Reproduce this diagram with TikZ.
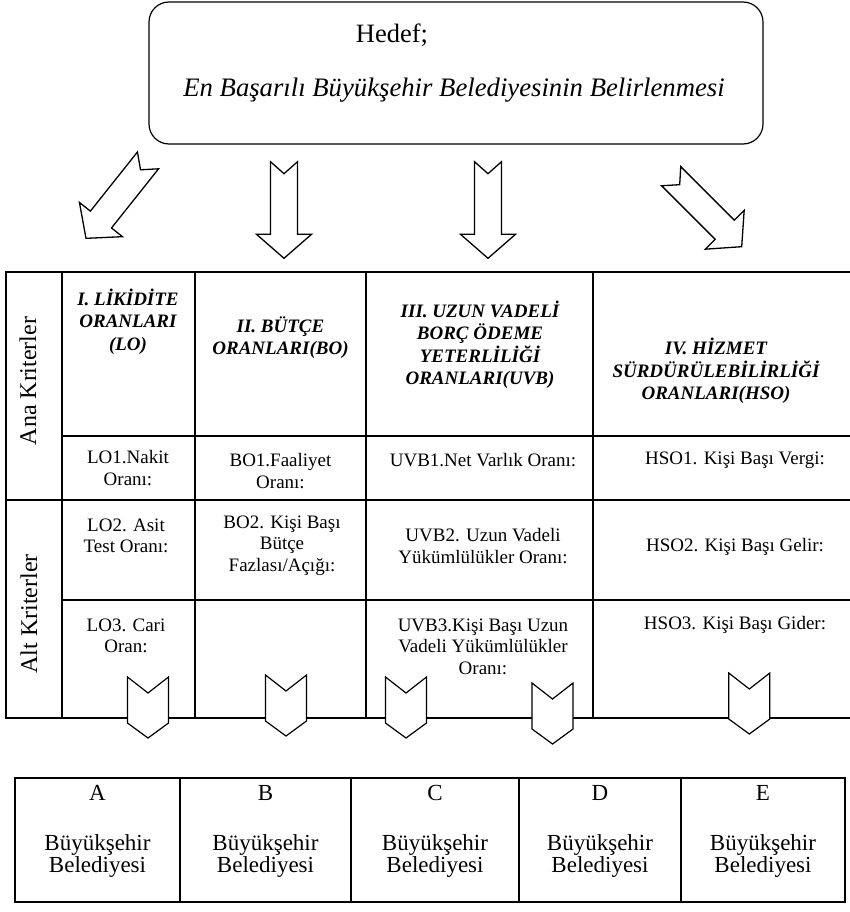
\documentclass[tikz,border=0pt]{standalone}
\usepackage{fontspec}
\setmainfont{Liberation Serif}

\tikzset{
  tablo/.style={line width=2pt},
  baslik/.style={font=\fontsize{19}{22.5}\selectfont\bfseries\itshape, align=center},
  oran/.style={font=\fontsize{19}{21.5}\selectfont, align=center},
  kriter/.style={font=\fontsize{24}{26}\selectfont, rotate=90},
  belediye/.style={font=\fontsize{23}{21.7}\selectfont, align=center},
  okblok/.style={draw, line width=1.3pt, fill=white},
  cevron/.style={draw, line width=1.2pt, fill=white},
}

\begin{document}
\begin{tikzpicture}[x=1pt, y=-1pt]
    \useasboundingbox (0,0) rectangle (850,912);

    % hedef
    \node[draw, line width=1.2pt, rounded corners=20pt, minimum width=614pt, minimum height=142pt] (hedef) at (456,73) {};
    \node[font=\fontsize{26.5}{30}\selectfont] (hedefbaslik) at (392,35) {Hedef;};
    \node[font=\fontsize{26.7}{30}\selectfont\itshape] (hedefmetin) at (454,90) {En Başarılı Büyükşehir Belediyesinin Belirlenmesi};

    % oklar
    \foreach \ax/\ay/\ang/\al in {148/160.4/-38.5/99.6, 284/161.7/0/96.6, 488/161.7/0/96.6, 671.2/176.2/45/99.7}{
        \begin{scope}[shift={(\ax,\ay)}, rotate=\ang]
            \draw[okblok] (-13.5,0) -- (0,12) -- (13.5,0) -- (13.5,\al-24) -- (27.5,\al-24) -- (0,\al) -- (-27.5,\al-24) -- (-13.5,\al-24) -- cycle;
        \end{scope}
    }

    % kriter tablosu
    \draw[tablo] (852,272) -- (6,272) -- (6,717.7) -- (852,717.7);
    \foreach \cx in {61.5,195,365.5,592.5} \draw[tablo] (\cx,272) -- (\cx,717.7);
    \draw[tablo] (61.5,435.5) -- (852,435.5);
    \draw[tablo] (6,500) -- (852,500);
    \draw[tablo] (61.5,600) -- (852,600);

    \node[kriter] (ana) at (28,381) {Ana Kriterler};
    \node[kriter] (alt) at (29,614) {Alt Kriterler};

    \node[baslik] (lo) at (128,321.5) {I. LİKİDİTE\\ORANLARI\\(LO)};
    \node[baslik] (bo) at (280.5,337.5) {II. BÜTÇE\\ORANLARI(BO)};
    \node[baslik] (uvb) at (480,345) {III. UZUN VADELİ\\BORÇ ÖDEME\\YETERLİLİĞİ\\ORANLARI(UVB)};
    \node[baslik] (hso) at (716,371) {IV. HİZMET\\SÜRDÜRÜLEBİLİRLİĞİ\\ORANLARI(HSO)};

    \node[oran] (lo1) at (128,468) {LO1.Nakit\\Oranı:};
    \node[oran] (bo1) at (280.5,471) {BO1.Faaliyet\\Oranı:};
    \node[oran] (uvb1) at (483,460) {UVB1.Net Varlık Oranı:};
    \node[oran] (hso1) at (735,460) {HSO1. Kişi Başı Vergi:};

    \node[oran] (lo2) at (126,536) {LO2. Asit\\Test Oranı:};
    \node[oran] (bo2) at (282,545.5) {BO2. Kişi Başı\\Bütçe\\Fazlası/Açığı:};
    \node[oran] (uvb2) at (483,546) {UVB2. Uzun Vadeli\\Yükümlülükler Oranı:};
    \node[oran] (hso2) at (735,546.7) {HSO2. Kişi Başı Gelir:};

    \node[oran] (lo3) at (126,636) {LO3. Cari\\Oran:};
    \node[oran] (uvb3) at (483,646.7) {UVB3.Kişi Başı Uzun\\Vadeli Yükümlülükler\\Oranı:};
    \node[oran] (hso3) at (735,625) {HSO3. Kişi Başı Gider:};

    % cevronlar
    \foreach \cx/\cy in {148/677, 286/675, 406/677, 552.5/683, 749.3/673}
        \draw[cevron] (\cx-20.5,\cy) -- (\cx,\cy+16) -- (\cx+20.5,\cy) -- (\cx+20.5,\cy+46) -- (\cx,\cy+61) -- (\cx-20.5,\cy+46) -- cycle;

    % belediyeler
    \draw[tablo] (15,777.5) rectangle (845,902);
    \foreach \cx in {180,351,519,681} \draw[tablo] (\cx,777.5) -- (\cx,902);
    \foreach \harf/\hx in {A/97.5, B/265.5, C/435, D/600, E/763}{
        \node[belediye] (harf\harf) at (\hx,793) {\harf};
        \node[belediye] (bel\harf) at (\hx,856) {Büyükşehir\\Belediyesi};
    }
\end{tikzpicture}
\end{document}
